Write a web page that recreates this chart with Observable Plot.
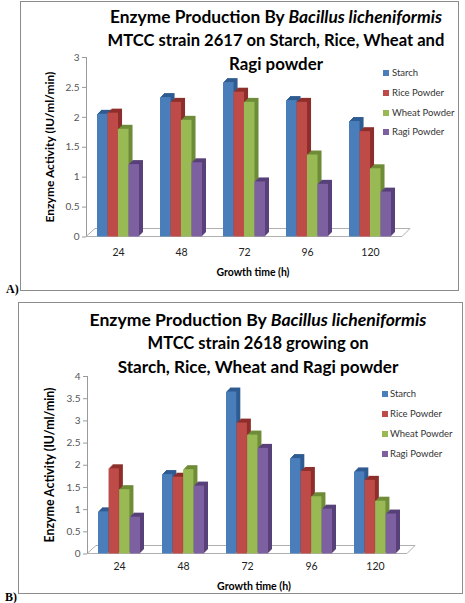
<!DOCTYPE html>
<html><head><meta charset="utf-8">
<script src="https://cdn.jsdelivr.net/npm/d3@7"></script>
<script src="https://cdn.jsdelivr.net/npm/@observablehq/plot@0.6"></script>
<style>
body{margin:0;background:#fff;}
#wrap{position:relative;width:465px;height:603px;overflow:hidden;font-family:Lato,sans-serif;}
#wrap svg{position:absolute;left:0;}
.frame{position:absolute;border:1px solid #8c8c8c;box-sizing:border-box;}
.t{position:absolute;white-space:nowrap;transform:translate(-50%,-50%);font-weight:bold;color:#000;line-height:1;}
.ttl{font-size:16px;}
.ax{font-size:10.5px;}
.yt{transform:translate(-50%,-50%) rotate(-90deg);}
.leg{position:absolute;font-size:9.5px;color:#333;white-space:nowrap;line-height:1;transform:translateY(-50%);}
.sw{position:absolute;width:6px;height:6px;transform:translateY(-50%);}
.pl{position:absolute;font-family:"Liberation Serif",serif;font-weight:bold;font-size:12px;transform:translateY(-50%);line-height:1;}
</style></head><body><div id="wrap"></div>
<script>
const times = ["24","48","72","96","120"];
const series = ["Starch","Rice Powder","Wheat Powder","Ragi Powder"];
// Panel A (strain 2617)
const starchA = [2.05,2.33,2.58,2.28,1.93];
const riceA   = [2.07,2.25,2.42,2.25,1.76];
const wheatA  = [1.80,1.95,2.25,1.37,1.14];
const ragiA   = [1.21,1.24,0.92,0.88,0.75];
// Panel B (strain 2618)
const starchB = [0.95,1.79,3.65,2.15,1.85];
const riceB   = [1.92,1.73,2.95,1.86,1.66];
const wheatB  = [1.45,1.90,2.68,1.29,1.19];
const ragiB   = [0.83,1.53,2.38,1.01,0.90];
const yTicksA = [0,0.5,1,1.5,2,2.5,3];
const yTicksB = [0,0.5,1,1.5,2,2.5,3,3.5,4];
const titleA = ["Enzyme Production By <i>Bacillus licheniformis</i>","MTCC strain 2617 on Starch, Rice, Wheat and","Ragi powder"];
const titleB = ["Enzyme Production By <i>Bacillus licheniformis</i>","MTCC strain 2618 growing on","Starch, Rice, Wheat and Ragi powder"];
const xTitle = "Growth time (h)";
const yTitle = "Enzyme Activity (IU/ml/min)";

const frontColors = ["#4a7ebb","#be4b48","#98b954","#7d60a0"];
const depthColors = ["#2f5c92","#8e2f2c","#6f8c38","#58417a"];

const wrap = document.getElementById("wrap");

function chart(cfg) {
  const {values, yTicks, yMax, top, height, mt, mb, ml, mr, po, tickPad} = cfg;
  const width = 465;
  const pi = 0.34;
  const rows = [];
  series.forEach((s,i)=>times.forEach((t,j)=>rows.push({series:s, si:i, time:t, value:values[i][j]})));
  const band = d3.scaleBand(times,[ml,width-mr]).paddingInner(pi).paddingOuter(po);
  const w = band.bandwidth()/4;
  const depth = 4;
  const marks = [];
  marks.push((index, scales, vals, dims) => {
    const x0 = dims.marginLeft, x1 = dims.width - dims.marginRight;
    const y0 = dims.height - dims.marginBottom, yt = dims.marginTop;
    const g = d3.create("svg:g").attr("fill","none");
    g.append("path").attr("d", `M${x0},${y0}L${x0+9},${y0-8}L${x1+8},${y0-8}L${x1},${y0}Z`).attr("stroke","#b0b0b0");
    g.append("path").attr("d", `M${x0+0.5},${y0}L${x0+0.5},${yt}`).attr("stroke","#9a9a9a");
    return g.node();
  });
  series.forEach((s,i)=>{
    const data = rows.filter(d=>d.si===i);
    for (let k=depth;k>=1;k--) marks.push(Plot.barY(data,{x:"time",y:"value",fill:depthColors[i],insetLeft:i*w,insetRight:(3-i)*w,dx:k,dy:-k}));
    marks.push(Plot.barY(data,{x:"time",y:"value",fill:frontColors[i],insetLeft:i*w,insetRight:(3-i)*w}));
  });
  marks.push(Plot.axisY({ticks:yTicks, tickFormat:d=>String(d), tickSize:4, tickPadding:3, stroke:"#9a9a9a", fill:"#555", fontSize:10, label:null}));
  marks.push(Plot.axisX({tickSize:0, tickPadding:tickPad, fill:"#222", fontSize:10.5, label:null}));
  const svg = Plot.plot({
    width, height,
    marginTop:mt, marginBottom:mb, marginLeft:ml, marginRight:mr,
    x:{type:"band", domain:times, paddingInner:pi, paddingOuter:po, align:0.5},
    y:{domain:[0,yMax]},
    style:{background:"transparent", fontFamily:"Lato, sans-serif", overflow:"visible"},
    marks
  });
  svg.style.top = top + "px";
  wrap.appendChild(svg);
}

function el(cls, html, x, y) {
  const d = document.createElement("div");
  d.className = cls; d.innerHTML = html;
  d.style.left = x + "px"; d.style.top = y + "px";
  wrap.appendChild(d);
  return d;
}
// scale font-size so the text spans the width
function fit(d, target) {
  const fs = parseFloat(getComputedStyle(d).fontSize);
  const wd = d.getBoundingClientRect();
  const len = Math.max(wd.width, wd.height);
  d.style.fontSize = (fs * target / len).toFixed(2) + "px";
}
function frame(l,t,r,b){
  const d = document.createElement("div"); d.className="frame";
  Object.assign(d.style,{left:l+"px",top:t+"px",width:(r-l)+"px",height:(b-t)+"px"});
  wrap.appendChild(d);
}

frame(20,1,459,291);
frame(18,302,463,594);

chart({values:[starchA,riceA,wheatA,ragiA], yTicks:yTicksA, yMax:3, top:0, height:290, mt:57, mb:53.5, ml:86, mr:63, po:0.158, tickPad:12});
chart({values:[starchB,riceB,wheatB,ragiB], yTicks:yTicksB, yMax:4, top:302, height:291, mt:74, mb:39.5, ml:87, mr:58, po:0.17, tickPad:9});

// titles
const wA = [332,337,94], wB = [337,221,281];
[17,40,64].forEach((y,i)=>fit(el("t ttl", titleA[i], 276, y), wA[i]));
[320,343,367].forEach((y,i)=>fit(el("t ttl", titleB[i], 258, y), wB[i]));
// axis titles
fit(el("t ax", xTitle, 253, 272), 73);
fit(el("t ax", xTitle, 254, 586), 74);
fit(el("t ax yt", yTitle, 50, 147), 151);
fit(el("t ax yt", yTitle, 50, 465), 155);
// legends
const legA = [73,93,113,132], legB = [394,414,434,454];
series.forEach((s,i)=>{
  const a = el("sw","",383,legA[i]); a.style.background = frontColors[i];
  el("leg", s, 392, legA[i]);
  const b = el("sw","",382,legB[i]); b.style.background = frontColors[i];
  el("leg", s, 390, legB[i]);
});
el("pl","A)",6,289);
el("pl","B)",5,597);
</script>
</body></html>
